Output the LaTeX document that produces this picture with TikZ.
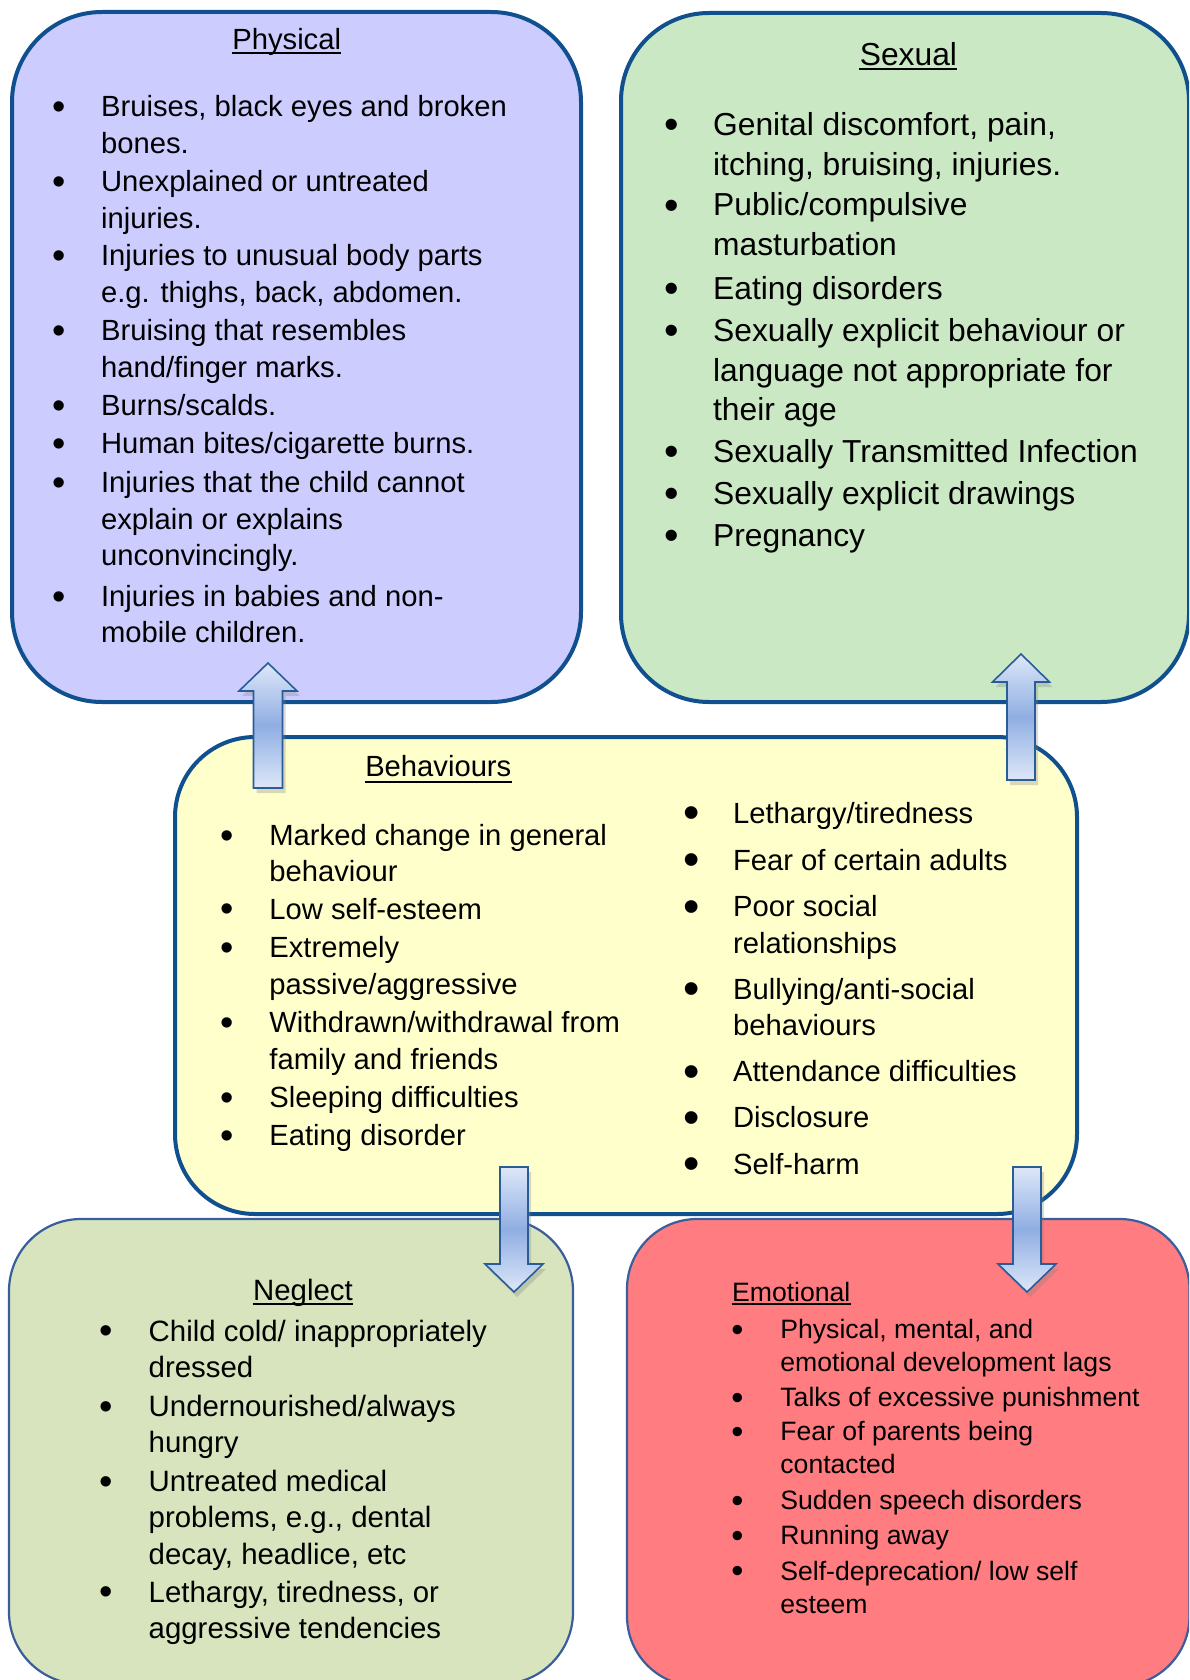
\documentclass[tikz,border=0pt]{standalone}
\usepackage{fontspec}
\setmainfont{Liberation Sans}
\usetikzlibrary{shadows}

\definecolor{physfill}{HTML}{CCCCFF}
\definecolor{sexfill}{HTML}{CBE8C4}
\definecolor{behfill}{HTML}{FFFFCC}
\definecolor{negfill}{HTML}{D7E4BD}
\definecolor{emofill}{HTML}{FF7C80}
\definecolor{darkedge}{HTML}{10508F}
\definecolor{thinedge}{HTML}{3A5E9C}
\definecolor{arrlight}{HTML}{DDE7F8}
\definecolor{arrmid}{HTML}{90AEE3}
\definecolor{arredge}{HTML}{2A5C98}

% bullet item: gap between bullet and text, then the lines
\newcommand{\itm}[2]{\begin{tabular}[t]{@{}l@{}}\llap{\raisebox{-0.1em}{\scalebox{1.3}{\textbullet}}\hspace{#1}}#2\end{tabular}}
\newcommand{\bigitm}[2]{\begin{tabular}[t]{@{}l@{}}\llap{\raisebox{-0.18em}{\scalebox{1.6}{\textbullet}}\hspace{#1}}#2\end{tabular}}

\tikzset{
	thickbox/.style={draw=darkedge, line width=2pt},
	thinbox/.style={draw=thinedge, line width=1.1pt},
	head/.style={anchor=base, inner sep=0pt},
	uline/.style={line width=1.1pt},
	item/.style={anchor=base west, inner sep=0pt},
	blockarrow/.style={draw=arredge, line width=0.8pt,
		top color=arrlight, bottom color=arrlight, middle color=arrmid,
		drop shadow={shadow xshift=1.5pt, shadow yshift=-2.5pt, opacity=0.3}},
	physfont/.style={font=\fontsize{14.6}{18.2}\selectfont},
	sexfont/.style={font=\fontsize{15.9}{19.8}\selectfont},
	behfont/.style={font=\fontsize{14.6}{18.2}\selectfont},
	negfont/.style={font=\fontsize{14.7}{18.2}\selectfont},
	emofont/.style={font=\fontsize{13.3}{16.6}\selectfont},
}

\begin{document}
\begin{tikzpicture}[x=0.5pt, y=-0.5pt]
	\useasboundingbox (0,0) rectangle (1189,1680);
	\clip (0,0) rectangle (1189,1680);

	% boxes
	\draw[thickbox, fill=physfill, rounded corners=45pt] (12,12) rectangle (581,702);
	\draw[thickbox, fill=sexfill, rounded corners=44pt] (621,13) rectangle (1189,702);
	\draw[thickbox, fill=behfill, rounded corners=40pt] (175,737) rectangle (1077,1214);
	\draw[thinbox, fill=negfill, rounded corners=36pt] (9,1219) rectangle (573,1684);
	\draw[thinbox, fill=emofill, rounded corners=35pt] (627,1219) rectangle (1189.5,1686);

	% Physical
	\node[head, physfont] (hphys) at (286.7,49.3) {Physical};
	\draw[uline] ([yshift=-1.8pt]hphys.base west) -- ([yshift=-1.8pt]hphys.base east);
	\node[item, physfont] (p1) at (100.7,116.7) {\itm{17.9pt}{Bruises, black eyes and broken\\bones.}};
	\node[item, physfont] (p2) at (100.7,191.7) {\itm{17.9pt}{Unexplained or untreated\\injuries.}};
	\node[item, physfont] (p3) at (100.7,265.6) {\itm{17.9pt}{Injuries to unusual body parts\\e.g. thighs, back, abdomen.}};
	\node[item, physfont] (p4) at (100.7,340.6) {\itm{17.9pt}{Bruising that resembles\\hand/finger marks.}};
	\node[item, physfont] (p5) at (100.7,415.6) {\itm{17.9pt}{Burns/scalds.}};
	\node[item, physfont] (p6) at (100.7,453.1) {\itm{17.9pt}{Human bites/cigarette burns.}};
	\node[item, physfont] (p7) at (100.7,492.7) {\itm{17.9pt}{Injuries that the child cannot\\explain or explains\\unconvincingly.}};
	\node[item, physfont] (p8) at (100.7,606.3) {\itm{17.9pt}{Injuries in babies and non-\\mobile children.}};

	% Sexual
	\node[head, sexfont] (hsex) at (908.4,65.5) {Sexual};
	\draw[uline] ([yshift=-1.8pt]hsex.base west) -- ([yshift=-1.8pt]hsex.base east);
	\node[item, sexfont] (s1) at (712.7,135.5) {\itm{17.3pt}{Genital discomfort, pain,\\itching, bruising, injuries.}};
	\node[item, sexfont] (s2) at (712.7,216) {\itm{17.3pt}{Public/compulsive\\masturbation}};
	\node[item, sexfont] (s3) at (712.7,299.7) {\itm{17.3pt}{Eating disorders}};
	\node[item, sexfont] (s4) at (712.7,341.5) {\itm{17.3pt}{Sexually explicit behaviour or\\language not appropriate for\\their age}};
	\node[item, sexfont] (s5) at (712.7,462.5) {\itm{17.3pt}{Sexually Transmitted Infection}};
	\node[item, sexfont] (s6) at (712.7,504.3) {\itm{17.3pt}{Sexually explicit drawings}};
	\node[item, sexfont] (s7) at (712.7,546.1) {\itm{17.3pt}{Pregnancy}};

	% Behaviours
	\node[head, behfont] (hbeh) at (438.3,776) {Behaviours};
	\draw[uline] ([yshift=-3pt]hbeh.base west) -- ([yshift=-3pt]hbeh.base east);
	\node[item, behfont] (b1) at (269,845.1) {\itm{17.7pt}{Marked change in general\\behaviour}};
	\node[item, behfont] (b2) at (269,919) {\itm{17.7pt}{Low self-esteem}};
	\node[item, behfont] (b3) at (269,957.6) {\itm{17.7pt}{Extremely\\passive/aggressive}};
	\node[item, behfont] (b4) at (269,1032.6) {\itm{17.7pt}{Withdrawn/withdrawal from\\family and friends}};
	\node[item, behfont] (b5) at (269,1107.6) {\itm{17.7pt}{Sleeping difficulties}};
	\node[item, behfont] (b6) at (269,1145.1) {\itm{17.7pt}{Eating disorder}};
	\node[item, behfont] (r1) at (732.7,823.5) {\bigitm{16.4pt}{Lethargy/tiredness}};
	\node[item, behfont] (r2) at (732.7,870) {\bigitm{16.4pt}{Fear of certain adults}};
	\node[item, behfont] (r3) at (732.7,916.8) {\bigitm{16.4pt}{Poor social\\relationships}};
	\node[item, behfont] (r4) at (732.7,999.4) {\bigitm{16.4pt}{Bullying/anti-social\\behaviours}};
	\node[item, behfont] (r5) at (732.7,1081.9) {\bigitm{16.4pt}{Attendance difficulties}};
	\node[item, behfont] (r6) at (732.7,1127.9) {\bigitm{16.4pt}{Disclosure}};
	\node[item, behfont] (r7) at (732.7,1174) {\bigitm{16.4pt}{Self-harm}};

	% Neglect
	\node[head, negfont] (hneg) at (303,1300.7) {Neglect};
	\draw[uline] ([yshift=-1.8pt]hneg.base west) -- ([yshift=-1.8pt]hneg.base east);
	\node[item, negfont] (n1) at (148.3,1341) {\itm{17.9pt}{Child cold/ inappropriately\\dressed}};
	\node[item, negfont] (n2) at (148.3,1416.2) {\itm{17.9pt}{Undernourished/always\\hungry}};
	\node[item, negfont] (n3) at (148.3,1491.2) {\itm{17.9pt}{Untreated medical\\problems, e.g., dental\\decay, headlice, etc}};
	\node[item, negfont] (n4) at (148.3,1602) {\itm{17.9pt}{Lethargy, tiredness, or\\aggressive tendencies}};

	% Emotional
	\node[head, emofont, anchor=base west] (hemo) at (731.7,1301.7) {Emotional};
	\draw[uline] ([yshift=-1.2pt]hemo.base west) -- ([yshift=-1.2pt]hemo.base east);
	\node[item, emofont] (e1) at (780,1338.5) {\itm{18.5pt}{Physical, mental, and\\emotional development lags}};
	\node[item, emofont] (e2) at (780,1406.7) {\itm{18.5pt}{Talks of excessive punishment}};
	\node[item, emofont] (e3) at (780,1440.7) {\itm{18.5pt}{Fear of parents being\\contacted}};
	\node[item, emofont] (e4) at (780,1509.6) {\itm{18.5pt}{Sudden speech disorders}};
	\node[item, emofont] (e5) at (780,1544.9) {\itm{18.5pt}{Running away}};
	\node[item, emofont] (e6) at (780,1580.3) {\itm{18.5pt}{Self-deprecation/ low self\\esteem}};

	% arrows
	\draw[blockarrow] (253.5,788) -- (253.5,691) -- (239,691) -- (268,663) -- (297,691) -- (282.5,691) -- (282.5,788) -- cycle;
	\draw[blockarrow] (1007,780) -- (1007,682) -- (992.5,682) -- (1021,654) -- (1049.5,682) -- (1035,682) -- (1035,780) -- cycle;
	\draw[blockarrow] (500,1167) -- (500,1264) -- (485,1264) -- (514,1292) -- (543,1264) -- (528,1264) -- (528,1167) -- cycle;
	\draw[blockarrow] (1013,1167) -- (1013,1264) -- (998,1264) -- (1027,1292) -- (1056,1264) -- (1041,1264) -- (1041,1167) -- cycle;
\end{tikzpicture}
\end{document}
